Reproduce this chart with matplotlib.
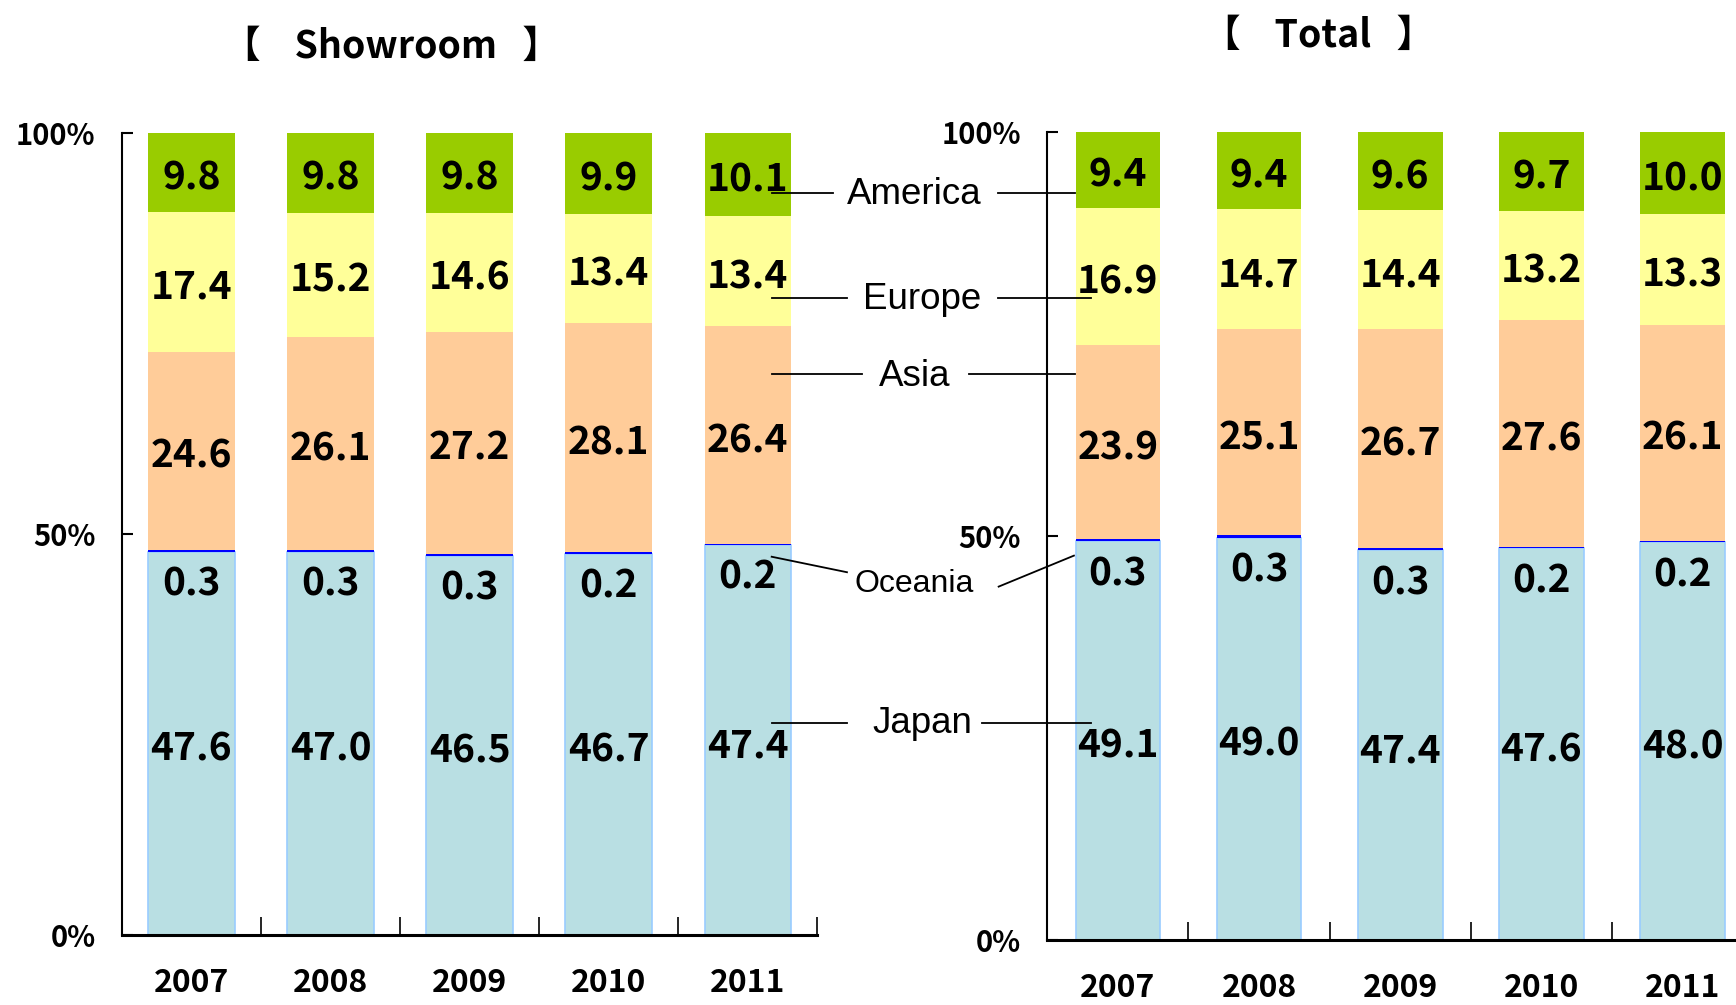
import numpy as np
import matplotlib
matplotlib.use("Agg")
import matplotlib.pyplot as plt
from matplotlib.lines import Line2D

# データ
years = ["2007", "2008", "2009", "2010", "2011"]
regions = ["Japan", "Oceania", "Asia", "Europe", "America"]

showroom_japan = [47.6, 47.0, 46.5, 46.7, 47.4]
showroom_oceania = [0.3, 0.3, 0.3, 0.2, 0.2]
showroom_asia = [24.6, 26.1, 27.2, 28.1, 26.4]
showroom_europe = [17.4, 15.2, 14.6, 13.4, 13.4]
showroom_america = [9.8, 9.8, 9.8, 9.9, 10.1]

total_japan = [49.1, 49.0, 47.4, 47.6, 48.0]
total_oceania = [0.3, 0.3, 0.3, 0.2, 0.2]
total_asia = [23.9, 25.1, 26.7, 27.6, 26.1]
total_europe = [16.9, 14.7, 14.4, 13.2, 13.3]
total_america = [9.4, 9.4, 9.6, 9.7, 10.0]

colors = ["#B9DFE3", "#0000FF", "#FFCC99", "#FFFF99", "#99CC00"]

NUM_FONT = "Noto Sans CJK JP"


def draw_panel(ax, series, width):
    data = np.array(series, dtype=float)
    shares = data / data.sum(axis=0) * 100  # 100%積み上げ
    x = np.arange(len(years))
    bottom = np.zeros(len(years))
    for i, (vals, col) in enumerate(zip(shares, colors)):
        if i == 0:
            ax.bar(x, vals, width, bottom=bottom, color=col, edgecolor="#99CCFF", linewidth=1.2, zorder=2)
        else:
            ax.bar(x, vals, width, bottom=bottom, color=col, linewidth=0, zorder=2)
        # 値ラベル
        for j in range(len(years)):
            if i == 1:
                y = bottom[j] - 4.0
            else:
                y = bottom[j] + vals[j] / 2 - 0.7
            ax.text(x[j], y, f"{data[i][j]:.1f}", ha="center", va="center",
                    fontsize=28, fontweight="bold", family=NUM_FONT, zorder=5)
        bottom += vals

    ax.set_xlim(-0.5, len(years) - 0.5)
    ax.set_ylim(0, 100)
    ax.set_yticks([0, 50, 100])
    ax.set_yticklabels(["0%", "50%", "100%"], fontsize=21, fontweight="bold", family=NUM_FONT)
    ax.tick_params(axis="y", direction="in", length=8, width=1.5, pad=19)
    ax.set_xticks(x)
    ax.set_xticklabels(years, fontsize=23, fontweight="bold", family=NUM_FONT)
    ax.set_xticks(np.arange(len(years)) + 0.5, minor=True)
    ax.tick_params(axis="x", which="major", length=0, pad=23)
    ax.tick_params(axis="x", which="minor", direction="in", length=13, width=1.2)
    for s in ["top", "right"]:
        ax.spines[s].set_visible(False)
    ax.spines["left"].set_linewidth(1.5)
    ax.spines["bottom"].set_linewidth(2.2)


fig = plt.figure(figsize=(17.36, 10.05), dpi=100)
ax1 = fig.add_axes([0.0702, 0.0694, 0.4005, 0.7984])
ax2 = fig.add_axes([0.6033, 0.065, 0.4065, 0.804])

draw_panel(ax1, [showroom_japan, showroom_oceania, showroom_asia, showroom_europe, showroom_america], 0.62)
draw_panel(ax2, [total_japan, total_oceania, total_asia, total_europe, total_america], 0.6)

# タイトル
fig.text(354 / 1568, 1 - 42 / 908, "【    Showroom   】", ha="center", va="center",
         fontsize=27, fontweight="bold", family=NUM_FONT)
fig.text(1191 / 1568, 1 - 32 / 908, "【    Total   】", ha="center", va="center",
         fontsize=27, fontweight="bold", family=NUM_FONT)


# 地域ラベルと引き出し線（表示座標 1568x908 基準）
def fpt(x, y):
    return x / 1568, 1 - y / 908


label_specs = [
    ("America", (826, 176), 26.5, [((697, 174), (752, 174)), ((901, 174), (971, 174))]),
    ("Europe", (833, 271), 26.5, [((697, 269), (765, 269)), ((901, 269), (985, 269))]),
    ("Asia", (826, 340), 26.5, [((697, 338), (779, 338)), ((875, 338), (971, 338))]),
    ("Oceania", (826, 528), 23, [((697, 503), (765, 517)), ((902, 530), (970, 502))]),
    ("Japan", (833, 654), 26.5, [((697, 653), (765, 653)), ((887, 653), (985, 653))]),
]
for name, pos, fs, segs in label_specs:
    tx, ty = fpt(*pos)
    fig.text(tx, ty, name, ha="center", va="center", fontsize=fs, family="Liberation Sans")
    for p0, p1 in segs:
        a = fpt(*p0)
        b = fpt(*p1)
        fig.add_artist(Line2D([a[0], b[0]], [a[1], b[1]], color="black", lw=1.3,
                              transform=fig.transFigure, zorder=10))

fig.savefig("out.png", dpi=100)
